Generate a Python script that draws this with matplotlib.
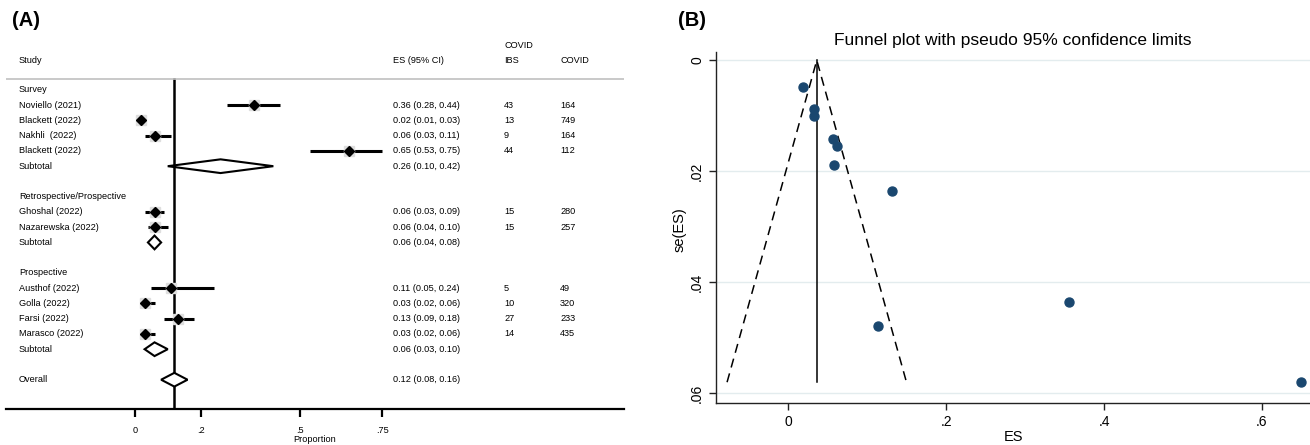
import matplotlib
matplotlib.use("Agg")
import matplotlib.pyplot as plt
from matplotlib.patches import Polygon

plt.rcParams['font.family'] = ['Liberation Sans', 'DejaVu Sans']

# ── DATA (forest plot) ──────────────────────────
groups = ["Survey", "Retrospective/Prospective", "Prospective"]
studies = ["Noviello (2021)", "Blackett (2022)", "Nakhli  (2022)", "Blackett (2022)",
           "Ghoshal (2022)", "Nazarewska (2022)",
           "Austhof (2022)", "Golla (2022)", "Farsi (2022)", "Marasco (2022)"]
study_group = [0, 0, 0, 0, 1, 1, 2, 2, 2, 2]
es = [0.36, 0.02, 0.06, 0.65, 0.06, 0.06, 0.11, 0.03, 0.13, 0.03]
ci_lo = [0.28, 0.01, 0.03, 0.53, 0.03, 0.04, 0.05, 0.02, 0.09, 0.02]
ci_hi = [0.44, 0.03, 0.11, 0.75, 0.09, 0.10, 0.24, 0.06, 0.18, 0.06]
n_ibs = [43, 13, 9, 44, 15, 15, 5, 10, 27, 14]
n_covid = [164, 749, 164, 112, 280, 257, 49, 320, 233, 435]
sub_es = [0.26, 0.06, 0.06]
sub_lo = [0.10, 0.04, 0.03]
sub_hi = [0.42, 0.08, 0.10]
overall = (0.12, 0.08, 0.16)
prop_ticks = [0, 0.2, 0.5, 0.75]
prop_labels = ["0", ".2", ".5", ".75"]

# ── DATA (funnel plot) ──────────────────────────
funnel_es = [0.018, 0.033, 0.032, 0.056, 0.062, 0.058, 0.131, 0.114, 0.356, 0.649]
funnel_se = [0.0049, 0.0087, 0.0101, 0.0142, 0.0155, 0.0188, 0.0235, 0.0479, 0.0435, 0.0580]
fixed_es = 0.036
se_max = 0.058

W, H = 1310, 445
fig = plt.figure(figsize=(W / 100, H / 100), dpi=100)
fig.patch.set_facecolor('white')

def px_box(x0, y0, x1, y1):
    return [x0 / W, 1 - y1 / H, (x1 - x0) / W, (y1 - y0) / H]

FS = 6.6

# ── PANEL A: forest plot ────────────────────────
ax = fig.add_axes(px_box(6, 30, 624, 409.3))
ax.set_xlim(-0.39, 1.4824)
ax.set_ylim(20.94, -3.93)
for s in ['top', 'right', 'left']:
    ax.spines[s].set_visible(False)
ax.spines['bottom'].set_linewidth(1.6)
ax.set_yticks([])
ax.set_xticks(prop_ticks)
ax.set_xticklabels(prop_labels, fontsize=FS)
ax.tick_params(axis='x', length=6, width=1.6, pad=6)
ax.set_xlabel("Proportion", fontsize=FS, labelpad=0)

X_STUDY, X_ES, X_IBS, X_COVID = -0.3506, 0.7827, 1.119, 1.289

ax.text(X_STUDY, -1.9, "Study", fontsize=FS, va='center')
ax.text(X_ES, -1.9, "ES (95% CI)", fontsize=FS, va='center')
ax.text(X_IBS, -2.9, "COVID", fontsize=FS, va='center')
ax.text(X_IBS, -1.9, "IBS", fontsize=FS, va='center')
ax.text(X_COVID, -1.9, "COVID", fontsize=FS, va='center')
ax.axhline(-0.72, color='#c0c0c0', lw=1.2)
ax.plot([overall[0], overall[0]], [-0.72, 20.94], color='black', lw=1.8, zorder=1)

def diamond(r, e, lo, hi, h=0.45):
    poly = Polygon([(lo, r), (e, r - h), (hi, r), (e, r + h)], closed=True,
                   facecolor='white', edgecolor='black', lw=1.5, zorder=3)
    ax.add_patch(poly)
    ax.text(X_ES, r, f"{e:.2f} ({lo:.2f}, {hi:.2f})", fontsize=FS, va='center')

row = 0
for g, gname in enumerate(groups):
    ax.text(X_STUDY, row, gname, fontsize=FS, va='center')
    row += 1
    for i in range(len(studies)):
        if study_group[i] != g:
            continue
        ax.text(X_STUDY, row, studies[i], fontsize=FS, va='center')
        ax.plot([ci_lo[i], ci_hi[i]], [row, row], color='black', lw=2.2, zorder=2,
                solid_capstyle='butt')
        ax.plot(es[i], row, marker='s', ms=6.5, color='#dedede', zorder=2)
        ax.plot(es[i], row, marker='D', ms=5.5, color='black', zorder=4)
        ax.text(X_ES, row, f"{es[i]:.2f} ({ci_lo[i]:.2f}, {ci_hi[i]:.2f})",
                fontsize=FS, va='center')
        ax.text(X_IBS, row, str(n_ibs[i]), fontsize=FS, va='center')
        ax.text(X_COVID, row, str(n_covid[i]), fontsize=FS, va='center')
        row += 1
    ax.text(X_STUDY, row, "Subtotal", fontsize=FS, va='center')
    diamond(row, sub_es[g], sub_lo[g], sub_hi[g])
    row += 2
ax.text(X_STUDY, row, "Overall", fontsize=FS, va='center')
diamond(row, *overall)

fig.text(12 / W, 1 - 20 / H, "(A)", fontsize=14.5, fontweight='bold', va='center')

# ── PANEL B: funnel plot ────────────────────────
bx = fig.add_axes(px_box(716, 51.7, 1310, 403.3))
bx.set_xlim(-0.0917, 0.661)
bx.set_ylim(0.0618, -0.00155)
bx.spines['top'].set_visible(False)
bx.spines['right'].set_visible(False)
for s in ['left', 'bottom']:
    bx.spines[s].set_color('#222222')
    bx.spines[s].set_linewidth(1.0)
bx.set_yticks([0, 0.02, 0.04, 0.06])
bx.set_yticklabels(["0", ".02", ".04", ".06"], rotation=90, va='center', fontsize=10)
bx.set_xticks([0, 0.2, 0.4, 0.6])
bx.set_xticklabels(["0", ".2", ".4", ".6"], fontsize=10)
bx.tick_params(length=5, width=1.0, color='#222222')
bx.grid(axis='y', color='#e3ecee', lw=1.0)
bx.set_axisbelow(True)

bx.plot([fixed_es - 1.96 * se_max, fixed_es, fixed_es + 1.96 * se_max],
        [se_max, 0, se_max], color='black', lw=1.1, dashes=(6, 4))
bx.plot([fixed_es, fixed_es], [0, se_max], color='black', lw=1.1)
bx.scatter(funnel_es, funnel_se, s=42, color='#1a476f', zorder=3, clip_on=False)

fig.text(1013 / W, 1 - 40 / H, "Funnel plot with pseudo 95% confidence limits",
         fontsize=12.5, ha='center', va='center')
fig.text(1013 / W, 1 - 437 / H, "ES", fontsize=10.5, ha='center', va='center')
fig.text(680 / W, 1 - 230 / H, "se(ES)", fontsize=10.5, rotation=90,
         ha='center', va='center')
fig.text(678 / W, 1 - 20 / H, "(B)", fontsize=14.5, fontweight='bold', va='center')

fig.savefig("out.png", dpi=100, facecolor='white')
